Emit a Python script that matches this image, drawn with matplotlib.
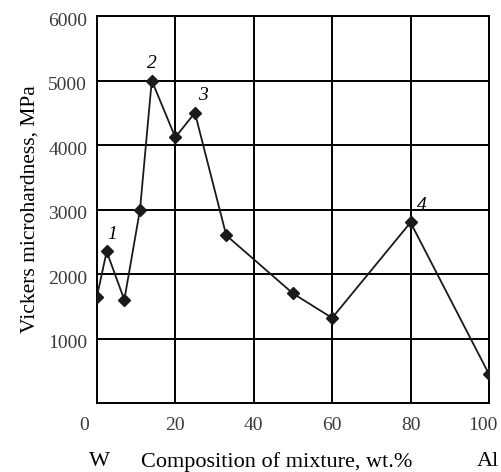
import matplotlib
matplotlib.use('Agg')
import matplotlib.pyplot as plt
import matplotlib.transforms as mtrans

# Microhardness vs composition of W-Al mixture
comp = [0, 2.5, 7, 11, 14, 20, 25, 33, 50, 60, 80, 100]
hardness = [1650, 2350, 1600, 3000, 5000, 4120, 4500, 2600, 1700, 1320, 2800, 450]

# numbered peaks: (label, x, y)
peak_labels = ['1', '2', '3', '4']
peak_x = [2.5, 14, 25, 80]
peak_y = [2350, 5000, 4500, 2800]

xticks = [0, 20, 40, 60, 80, 100]
yticks = [1000, 2000, 3000, 4000, 5000, 6000]

plt.rcParams['font.family'] = ['Liberation Serif', 'DejaVu Serif']

fig = plt.figure(figsize=(5.02, 4.72), dpi=100)
ax = fig.add_axes([0.193, 0.146, 0.781, 0.82])

ax.plot(comp, hardness, color='#1a1a1a', lw=1.3, marker='D', ms=6,
        mfc='#1a1a1a', mec='#1a1a1a', zorder=3)

ax.set_xlim(0, 100)
ax.set_ylim(0, 6000)
ax.set_xticks(xticks)
ax.set_yticks(yticks)
ax.tick_params(length=0, labelsize=14, labelcolor='#3a3a3a')
ax.tick_params(axis='x', pad=10)
ax.tick_params(axis='y', pad=7)
ax.grid(True, color='black', lw=1.4)
for s in ax.spines.values():
    s.set_linewidth(1.4)

def shift(lbl, dx, dy):
    lbl.set_transform(lbl.get_transform() +
                      mtrans.ScaledTranslation(dx / 100, dy / 100, fig.dpi_scale_trans))

# the end labels sit a little inward of their grid lines
xlbls = ax.get_xticklabels()
shift(xlbls[0], -13, 0)
shift(xlbls[-1], -6, 0)
# y labels sit slightly below their grid lines
for lbl in ax.get_yticklabels():
    shift(lbl, 0, -3)

# peak numbers
offsets = [(4, 6), (0, 6), (6, 6), (8, 6)]
for lab, x, y, off in zip(peak_labels, peak_x, peak_y, offsets):
    ax.annotate(lab, (x, y), xytext=off, textcoords='offset points',
                fontsize=14, style='italic', ha='center', va='bottom')

ax.set_ylabel('Vickers microhardness, MPa', fontsize=15.5, labelpad=6)
fig.text(0.552, 0.011, 'Composition of mixture, wt.%', fontsize=16,
         ha='center', va='baseline')
fig.text(0.199, 0.013, 'W', fontsize=16, ha='center', va='baseline')
fig.text(0.971, 0.013, 'Al', fontsize=16, ha='center', va='baseline')

fig.savefig('out.png', dpi=100)
